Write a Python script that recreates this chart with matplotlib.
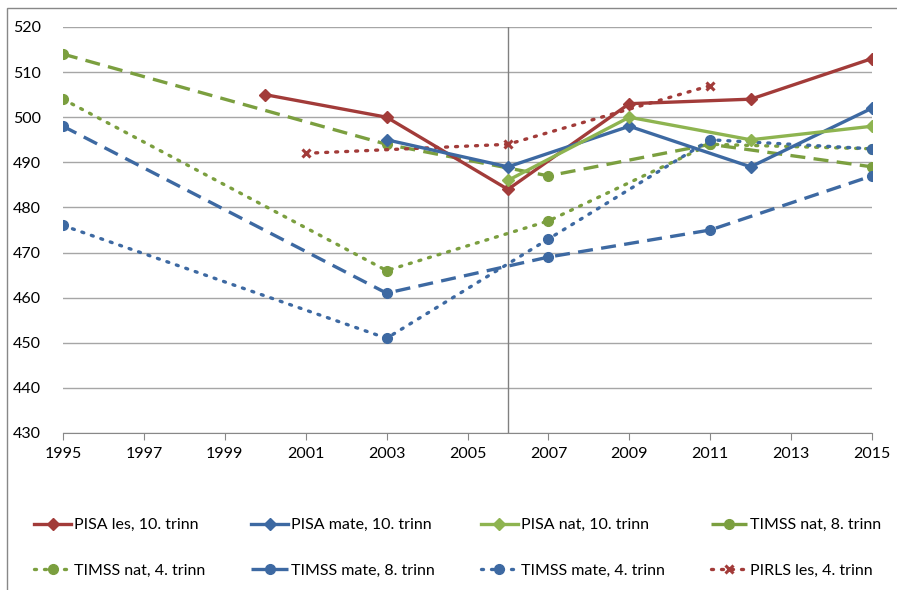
import matplotlib
matplotlib.use('Agg')
import matplotlib.pyplot as plt
from matplotlib.patches import Rectangle
from matplotlib.ticker import MultipleLocator

plt.rcParams['font.family'] = ['Lato', 'DejaVu Sans']

''' Data '''
pisa_years = [2000, 2003, 2006, 2009, 2012, 2015]
pisa_les = [505, 500, 484, 503, 504, 513]
pisa_mate_years = [2003, 2006, 2009, 2012, 2015]
pisa_mate = [495, 489, 498, 489, 502]
pisa_nat_years = [2006, 2009, 2012, 2015]
pisa_nat = [486, 500, 495, 498]
timss_years = [1995, 2003, 2007, 2011, 2015]
timss_nat8 = [514, 494, 487, 494, 489]
timss_nat4 = [504, 466, 477, 494, 493]
timss_mate8 = [498, 461, 469, 475, 487]
timss_mate4 = [476, 451, 473, 495, 493]
pirls_years = [2001, 2006, 2011]
pirls_les = [492, 494, 507]
xticks = list(range(1995, 2016, 2))

red = '#A23B39'
blue = '#3D69A2'
lgreen = '#8EB450'
green = '#7B9F3F'

''' Plot '''
fig = plt.figure(figsize=(8.97, 5.90), dpi=100)
ax = fig.add_axes([63/897, 1-433/590, (872-63)/897, (433-27)/590])

dash = (0, (4.5, 2.5))
dot = (0, (0.6, 2.4))

ax.plot(pisa_years, pisa_les, color=red, lw=2.4, marker='D', ms=6, label='PISA les, 10. trinn', zorder=5)
ax.plot(pisa_mate_years, pisa_mate, color=blue, lw=2.4, marker='D', ms=6, label='PISA mate, 10. trinn', zorder=5)
ax.plot(pisa_nat_years, pisa_nat, color=lgreen, lw=2.4, marker='D', ms=6, label='PISA nat, 10. trinn', zorder=5)
ax.plot(timss_years, timss_nat8, color=green, lw=2.4, ls=dash, marker='o', ms=7, label='TIMSS nat, 8. trinn', zorder=4)
ax.plot(timss_years, timss_nat4, color=green, lw=2.4, ls=dot, dash_capstyle='round', marker='o', ms=7, label='TIMSS nat, 4. trinn', zorder=4)
ax.plot(timss_years, timss_mate8, color=blue, lw=2.4, ls=dash, marker='o', ms=7, label='TIMSS mate, 8. trinn', zorder=4)
ax.plot(timss_years, timss_mate4, color=blue, lw=2.4, ls=dot, dash_capstyle='round', marker='o', ms=7, label='TIMSS mate, 4. trinn', zorder=4)
ax.plot(pirls_years, pirls_les, color=red, lw=2.4, ls=dot, dash_capstyle='round', marker='x', ms=6, mew=2.2, label='PIRLS les, 4. trinn', zorder=4)

ax.axvline(2006, color='#808080', lw=1, zorder=2)

# format
ax.set_xlim(1995, 2015)
ax.set_ylim(430, 520)
ax.set_xticks(xticks)
ax.yaxis.set_major_locator(MultipleLocator(10))
ax.grid(axis='y', color='#A6A6A6', lw=1)
ax.set_axisbelow(True)
for s in ['top', 'right', 'left']:
    ax.spines[s].set_visible(False)
ax.spines['bottom'].set_color('#888888')
ax.tick_params(axis='x', length=5, color='#888888', labelsize=11.5, pad=5)
ax.tick_params(axis='y', length=0, labelsize=11.5, pad=16)

# legend row-wise order
handles, labels = ax.get_legend_handles_labels()
order = [0, 4, 1, 5, 2, 6, 3, 7]
fig.legend([handles[i] for i in order], [labels[i] for i in order],
           loc='lower left', bbox_to_anchor=(28/897, 6/590, 860/897, 95/590), mode='expand',
           ncol=4, frameon=False, fontsize=11.5, handlelength=2.3, handletextpad=0.2,
           labelspacing=1.95, borderaxespad=0)

fig.patches.append(Rectangle((7/897, -0.1), 1.2, 1-8/590+0.1, transform=fig.transFigure,
                             fill=False, edgecolor='#888888', lw=1))

plt.savefig('out.png', dpi=100)
